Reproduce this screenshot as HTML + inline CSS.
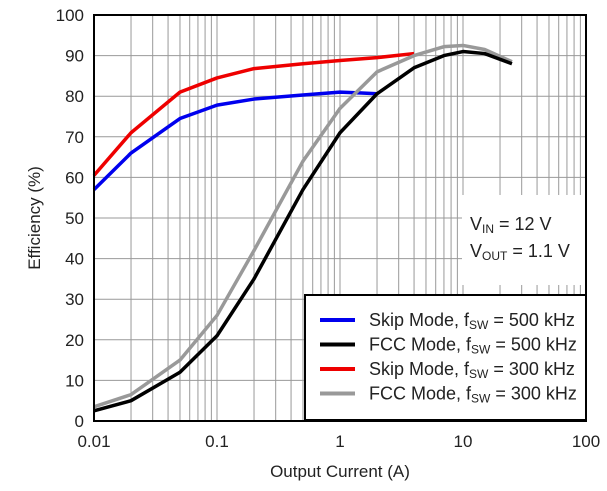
<!DOCTYPE html>
<html><head><meta charset="utf-8"><style>
body{margin:0;background:#fff;}
svg{display:block;font-family:"Liberation Sans",Arial,sans-serif;}
</style></head><body>
<svg id="chart" width="607" height="491" viewBox="0 0 607 491">
<g id="grid"></g>
<g id="series"></g>
<rect x="462" y="195" width="124" height="90" fill="#fff"/>
<text x="470" y="230" font-size="18" fill="#222">V<tspan font-size="12" dy="3">IN</tspan><tspan dy="-3"> = 12 V</tspan></text>
<text x="470" y="257" font-size="18" fill="#222">V<tspan font-size="12" dy="3">OUT</tspan><tspan dy="-3"> = 1.1 V</tspan></text>
<g>
<rect x="305" y="295" width="281" height="125" fill="#fff" stroke="#000" stroke-width="2"/>
<g id="legend-items"></g>
</g>
<rect x="94" y="15" width="492" height="406" fill="none" stroke="#000" stroke-width="2"/>
<g id="ticks"></g>
<text x="340" y="477" font-size="17" text-anchor="middle" fill="#222">Output Current (A)</text>
<text transform="translate(40,218) rotate(-90)" font-size="17" text-anchor="middle" fill="#222">Efficiency (%)</text>
</svg>
<script>
const xTicks=[0.01,0.1,1,10,100];
const xTickLabels=["0.01","0.1","1","10","100"];
const yTicks=[0,10,20,30,40,50,60,70,80,90,100];
const skip500X=[0.01,0.02,0.05,0.1,0.2,0.5,1,1.5,2];
const skip500Y=[57,66,74.5,77.8,79.3,80.3,81,80.8,80.6];
const fcc500X=[0.01,0.02,0.05,0.1,0.2,0.5,1,2,4,7,10,15,25];
const fcc500Y=[2.5,5,12,21,35,57,71,80.6,87,90,91,90.5,88];
const skip300X=[0.01,0.02,0.05,0.1,0.2,0.5,1,2,4];
const skip300Y=[60.5,71,81,84.5,86.8,88,88.8,89.5,90.5];
const fcc300X=[0.01,0.02,0.05,0.1,0.2,0.5,1,2,4,7,10,15,25];
const fcc300Y=[3.5,6.5,15,26,42,64,77,86,90,92.2,92.5,91.5,88.5];
const seriesNames=["Skip Mode","FCC Mode","Skip Mode","FCC Mode"];
const seriesFreq=["500 kHz","500 kHz","300 kHz","300 kHz"];
const colors=["#0000ee","#000000","#ee0000","#999999"];
const X0=94,X1=586,Y0=421,Y1=15;
const xs=v=>X0+(Math.log10(v)+2)/4*(X1-X0);
const ys=v=>Y0-v/100*(Y0-Y1);
const NS="http://www.w3.org/2000/svg";
const mk=(t,a,p)=>{const e=document.createElementNS(NS,t);for(const k in a)e.setAttribute(k,a[k]);p.appendChild(e);return e;};
const grid=document.getElementById('grid'),ticks=document.getElementById('ticks');
for(let d=-2;d<2;d++)for(let m=1;m<10;m++){const v=m*Math.pow(10,d);if(m===1&&d===-2)continue;
 const l=mk('line',{x1:xs(v),x2:xs(v),y1:Y1,y2:Y0,stroke:'#999','stroke-width':1},grid);
 
 }
yTicks.forEach(v=>{const l=mk('line',{x1:X0,x2:X1,y1:ys(v),y2:ys(v),stroke:'#999','stroke-width':1},grid);
 
 
 const t=mk('text',{x:X0-10,y:ys(v)+6,'font-size':17,'text-anchor':'end',fill:'#222'},ticks);t.textContent=v;
 
 });
xTicks.forEach((v,i)=>{const t=mk('text',{x:xs(v),y:447,'font-size':17,'text-anchor':'middle',fill:'#222'},ticks);t.textContent=xTickLabels[i];
 
 });
const ser=document.getElementById('series');
const data=[[skip500X,skip500Y],[fcc500X,fcc500Y],[skip300X,skip300Y],[fcc300X,fcc300Y]];
const order=[0,2,3,1];
order.forEach(i=>{const [X,Y]=data[i];
 const p=mk('polyline',{points:X.map((x,j)=>xs(x)+','+ys(Y[j])).join(' '),fill:'none',stroke:colors[i],'stroke-width':3.5,'stroke-linejoin':'round'},ser);
 
 });
const lg=document.getElementById('legend-items');
seriesNames.forEach((n,i)=>{const y=320+i*24.5;
 const l=mk('line',{x1:320,x2:355,y1:y,y2:y,stroke:colors[i],'stroke-width':4},lg);
 
 
 const t=mk('text',{x:369,y:y+6,'font-size':18,fill:'#222'},lg);
 
 
 t.innerHTML=n+', f<tspan font-size="12" dy="3">SW</tspan><tspan dy="-3"> = '+seriesFreq[i]+'</tspan>';});
</script>
</body></html>
